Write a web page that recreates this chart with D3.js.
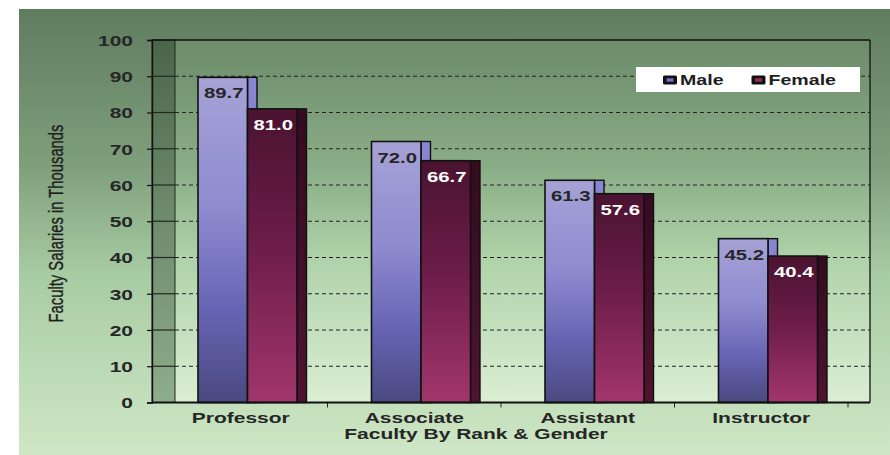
<!DOCTYPE html>
<html>
<head>
<meta charset="utf-8">
<script src="https://cdn.jsdelivr.net/npm/d3@7"></script>
<style>
  html, body { margin: 0; padding: 0; background: #ffffff; }
  svg { display: block; }
  text { font-family: "Liberation Sans", Arial, Helvetica, sans-serif; }
</style>
</head>
<body>
<svg id="chart" width="890" height="455"></svg>
<script>
// Faculty salaries (thousands) by rank and gender
const categories = ["Professor", "Associate", "Assistant", "Instructor"];
const series = ["Male", "Female"];
const maleValues = [89.7, 72.0, 61.3, 45.2];
const femaleValues = [81.0, 66.7, 57.6, 40.4];
const yTicks = [0, 10, 20, 30, 40, 50, 60, 70, 80, 90, 100];
const yTitle = "Faculty Salaries in Thousands";
const xTitle = "Faculty By Rank & Gender";

const SX = 1.4;           // horizontal stretch of the lettering
const W = 890, H = 455;
const plot = { left: 152, right: 870, top: 40, bottom: 402.5, wall: 23 };
const depth = 9.5;        // visible side face of each column

const svg = d3.select("#chart");
const defs = svg.append("defs");

function vGrad(id, stops) {
  const g = defs.append("linearGradient").attr("id", id)
    .attr("x1", 0).attr("y1", 0).attr("x2", 0).attr("y2", 1);
  stops.forEach(([o, c]) => g.append("stop").attr("offset", o).attr("stop-color", c));
}
vGrad("panelGrad", [[0, "#5f7c5f"], [0.35, "#7f9f7c"], [0.6, "#a8cca3"], [1, "#cfe7c6"]]);
vGrad("backGrad", [[0, "#6c8c6a"], [0.35, "#8aac86"], [0.6, "#afd2a9"], [1, "#dbeed3"]]);
vGrad("wallGrad", [[0, "#4b654b"], [0.5, "#6f8c6d"], [1, "#8ead8b"]]);
vGrad("maleFront", [[0, "#a6a2d6"], [0.4, "#8e8bd0"], [0.72, "#6664b2"], [1, "#4a4980"]]);
vGrad("maleSide", [[0, "#8a88d4"], [1, "#5a58a0"]]);
vGrad("femaleFront", [[0, "#4a1330"], [0.45, "#6b1c48"], [1, "#a2366c"]]);
vGrad("femaleSide", [[0, "#340b1f"], [1, "#4e1430"]]);

// Chart area background
svg.append("rect").attr("x", 19).attr("y", 9).attr("width", W - 19).attr("height", H - 9)
  .attr("fill", "url(#panelGrad)");

const y = d3.scaleLinear().domain([0, 100]).range([plot.bottom, plot.top]);
const x = d3.scaleBand().domain(categories).range([154, 848]).paddingInner(0).paddingOuter(0);
const xs = d3.scaleBand().domain(series).range([44, 143]).padding(0);

// Back plane and side wall
svg.append("rect").attr("x", plot.left + plot.wall).attr("y", plot.top)
  .attr("width", plot.right - plot.left - plot.wall).attr("height", plot.bottom - plot.top)
  .attr("fill", "url(#backGrad)");
svg.append("rect").attr("x", plot.left).attr("y", plot.top)
  .attr("width", plot.wall).attr("height", plot.bottom - plot.top)
  .attr("fill", "url(#wallGrad)").attr("stroke", "#1d2a1d").attr("stroke-width", 1);

// Gridlines: solid across the wall, dashed across the back plane
const grid = svg.append("g");
yTicks.filter(t => t > 0 && t < 100).forEach(t => {
  grid.append("line").attr("x1", plot.left).attr("x2", plot.left + plot.wall)
    .attr("y1", y(t)).attr("y2", y(t)).attr("stroke", "#1e2a1e").attr("stroke-width", 1.2);
  grid.append("line").attr("x1", plot.left + plot.wall).attr("x2", plot.right)
    .attr("y1", y(t)).attr("y2", y(t)).attr("stroke", "#222").attr("stroke-width", 1.2)
    .attr("stroke-dasharray", "4,3");
});

// Frame
svg.append("line").attr("x1", plot.left).attr("x2", plot.right).attr("y1", plot.top).attr("y2", plot.top)
  .attr("stroke", "#111").attr("stroke-width", 1.3);
svg.append("line").attr("x1", plot.right).attr("x2", plot.right).attr("y1", plot.top).attr("y2", plot.bottom)
  .attr("stroke", "#111").attr("stroke-width", 1.3);

// Columns: side face first, then front face, so each female front hides the male side
const rows = categories.map((c, i) => ({ cat: c, Male: maleValues[i], Female: femaleValues[i] }));
const bars = svg.append("g");
rows.forEach(r => {
  series.forEach(s => {
    const v = r[s];
    const x0 = x(r.cat) + xs(s);
    const bw = xs.bandwidth();
    const isMale = s === "Male";
    bars.append("rect").attr("x", x0 + bw).attr("y", y(v))
      .attr("width", depth).attr("height", y(0) - y(v))
      .attr("fill", isMale ? "url(#maleSide)" : "url(#femaleSide)")
      .attr("stroke", "#111").attr("stroke-width", 1.4);
    bars.append("rect").attr("x", x0).attr("y", y(v))
      .attr("width", bw).attr("height", y(0) - y(v))
      .attr("fill", isMale ? "url(#maleFront)" : "url(#femaleFront)")
      .attr("stroke", "#111").attr("stroke-width", 1.6);
    bars.append("text")
      .attr("transform", `translate(${x0 + bw / 2 + 1},${y(v) + 21}) scale(${SX},1)`)
      .attr("text-anchor", "middle").attr("font-size", 14.5).attr("font-weight", "bold")
      .attr("fill", isMale ? "#262626" : "#ffffff")
      .text(v.toFixed(1));
  });
});

// Y axis
const yAxis = svg.append("g").attr("transform", `translate(${plot.left},0)`)
  .call(d3.axisLeft(y).tickValues(yTicks).tickSize(5).tickFormat(d3.format("d")));
yAxis.select(".domain").attr("stroke", "#111").attr("stroke-width", 1.4);
yAxis.selectAll(".tick line").attr("stroke", "#111").attr("stroke-width", 1.2);
yAxis.selectAll(".tick text")
  .attr("x", null).attr("dy", null)
  .attr("transform", `translate(-19,5.4) scale(${SX},1)`)
  .attr("text-anchor", "end")
  .attr("font-size", 15).attr("font-weight", "bold").attr("fill", "#262626")
  .style("font-family", "'Liberation Sans', Arial, sans-serif");

// X axis: category labels at band centres, ticks at band boundaries
const xAxis = svg.append("g").attr("transform", `translate(0,${plot.bottom})`)
  .call(d3.axisBottom(x).tickSize(0));
xAxis.select(".domain").remove();
xAxis.selectAll(".tick text")
  .attr("y", null).attr("dy", null)
  .attr("transform", `translate(0,20.5) scale(${SX},1)`)
  .attr("font-size", 15).attr("font-weight", "bold").attr("fill", "#262626")
  .style("font-family", "'Liberation Sans', Arial, sans-serif");
const bounds = categories.map(c => x(c)).concat([x.range()[1]]);
bounds.slice(1).forEach(b => {
  svg.append("line").attr("x1", b).attr("x2", b).attr("y1", plot.bottom).attr("y2", plot.bottom + 5)
    .attr("stroke", "#222").attr("stroke-width", 1);
});
svg.append("line").attr("x1", plot.left).attr("x2", plot.right)
  .attr("y1", plot.bottom).attr("y2", plot.bottom)
  .attr("stroke", "#111").attr("stroke-width", 2.2);

// Axis titles
svg.append("text")
  .attr("transform", `translate(476,439) scale(${SX},1)`)
  .attr("text-anchor", "middle").attr("font-size", 15).attr("font-weight", "bold").attr("fill", "#262626")
  .text(xTitle);
svg.append("text")
  .attr("transform", `translate(62.5,223.5) scale(${SX},1) rotate(-90)`)
  .attr("text-anchor", "middle").attr("font-size", 14.8).attr("fill", "#1e1e1e")
  .attr("stroke", "#1e1e1e").attr("stroke-width", 0.25)
  .text(yTitle);

// Legend
const legend = svg.append("g");
legend.append("rect").attr("x", 636).attr("y", 67).attr("width", 224).attr("height", 25).attr("fill", "#ffffff");
const legendItems = [
  { name: "Male", swatchX: 663, fill: "#7272c4" },
  { name: "Female", swatchX: 751.5, fill: "#9a2a5c" }
];
legendItems.forEach(d => {
  legend.append("rect").attr("x", d.swatchX).attr("y", 75.5).attr("width", 14).attr("height", 9)
    .attr("rx", 1.5).attr("fill", "#111");
  legend.append("rect").attr("x", d.swatchX + 3.5).attr("y", 78.3).attr("width", 7).attr("height", 3.4)
    .attr("fill", d.fill);
  legend.append("text")
    .attr("transform", `translate(${d.swatchX + 17},85) scale(${SX},1)`)
    .attr("font-size", 14).attr("font-weight", "bold").attr("fill", "#1e1e1e")
    .text(d.name);
});
</script>
</body>
</html>
